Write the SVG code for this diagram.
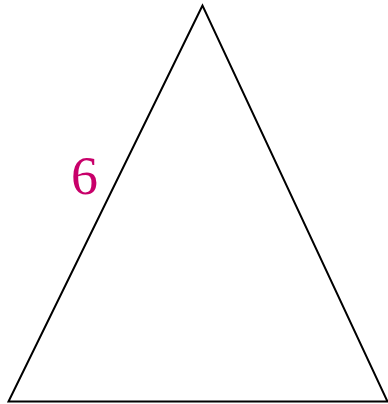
<svg xmlns="http://www.w3.org/2000/svg" width="388" height="404" viewBox="0 0 388 404">
<style>
.edge{fill:none;stroke:#000;stroke-width:2;stroke-linejoin:miter}
.lbl{font-family:"Liberation Serif","DejaVu Serif",serif;font-size:54px;fill:#c8006a}
</style>
<rect width="388" height="404" fill="#fff"/>
<g id="triangle">
<polygon class="edge" points="202.5,5.5 8.5,401.5 387.5,401.5"/>
</g>
<g id="label-6">
<text class="lbl" x="71" y="194">6</text>
</g>
</svg>
